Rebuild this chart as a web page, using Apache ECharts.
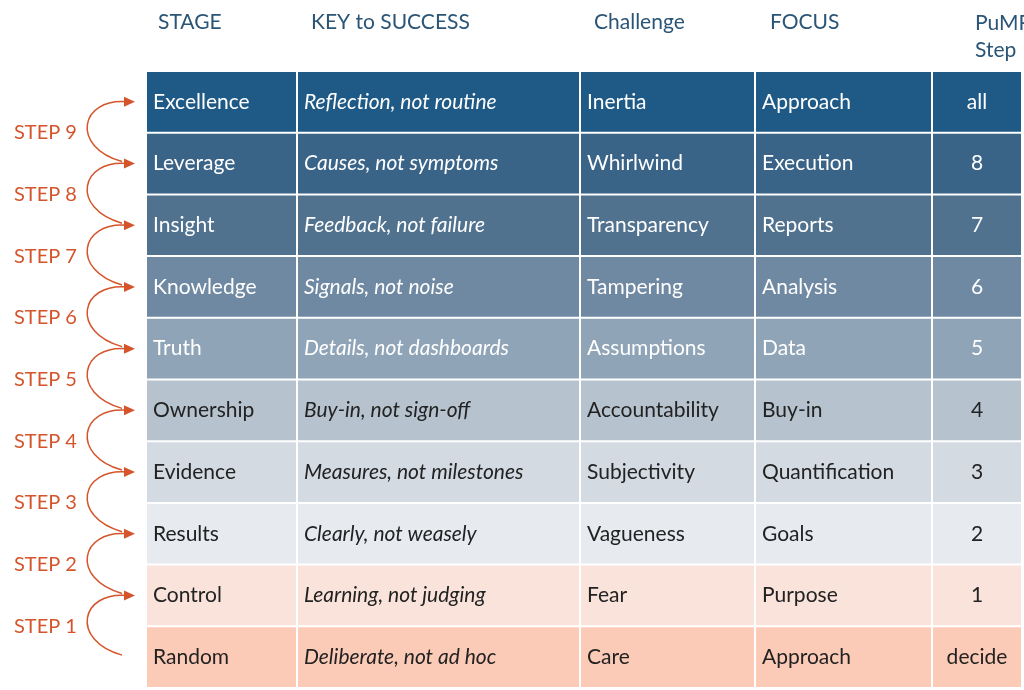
<!DOCTYPE html>
<html><head><meta charset="utf-8">
<script src="https://cdn.jsdelivr.net/npm/echarts@6/dist/echarts.min.js"></script>
<style>html,body{margin:0;background:#fff}#c{width:1024px;height:690px}</style>
</head><body><div id="c"></div>
<script>
const headers = ['STAGE','KEY to SUCCESS','Challenge','FOCUS','PuMP\nStep'];
const stages = ['Excellence','Leverage','Insight','Knowledge','Truth','Ownership','Evidence','Results','Control','Random'];
const keys = ['Reflection, not routine','Causes, not symptoms','Feedback, not failure','Signals, not noise','Details, not dashboards','Buy-in, not sign-off','Measures, not milestones','Clearly, not weasely','Learning, not judging','Deliberate, not ad hoc'];
const challenges = ['Inertia','Whirlwind','Transparency','Tampering','Assumptions','Accountability','Subjectivity','Vagueness','Fear','Care'];
const focus = ['Approach','Execution','Reports','Analysis','Data','Buy-in','Quantification','Goals','Purpose','Approach'];
const pumpSteps = ['all','8','7','6','5','4','3','2','1','decide'];
const stepLabels = ['STEP 1','STEP 2','STEP 3','STEP 4','STEP 5','STEP 6','STEP 7','STEP 8','STEP 9'];

const rowColors = ['#1e5a85','#3a6388','#50728f','#6f89a2','#8fa4b7','#b6c3ce','#d3dae2','#e7ebf0','#f9e3da','#fccbb8'];
const textColors = ['#fff','#fff','#fff','#fff','#fff','#222','#222','#222','#222','#222'];
const colEdges = [0,151,434,609,786,876];
const columns = [stages, keys, challenges, focus, pumpSteps];

const cells = [];
columns.forEach((col,c)=>col.forEach((v,r)=>cells.push([c,r,v])));
const font = 'Lato, "Noto Sans", sans-serif';

const chart = echarts.init(document.getElementById('c'));
chart.setOption({
  animation:false,
  grid:{left:146,right:2,top:71,bottom:2},
  xAxis:{type:'value',min:0,max:876,show:false},
  yAxis:{type:'category',data:stages,inverse:true,show:false},
  graphic: headers.map((h,i)=>({
    type:'text',
    left: i===4 ? undefined : [158,311,594,770][i],
    x: i===4 ? 975 : undefined,
    top: i===4 ? 10 : 9,
    style:{text:h,fill:'#2a5576',font:'21px '+font,align:i===4?'center':'left',lineHeight:27}
  })).map(g=>{ if(g.x!==undefined){g.left=undefined;} return g;}),
  series:[{
    type:'custom',
    data:cells,
    encode:{x:0,y:1},
    renderItem:(params,api)=>{
      const c=api.value(0), r=api.value(1);
      const v=cells[params.dataIndex][2];
      const p0=api.coord([colEdges[c],r]), p1=api.coord([colEdges[c+1],r]);
      const h=api.size([0,1])[1];
      const x0=p0[0], x1=p1[0], y=p0[1];
      const center=c===4;
      return {type:'group',children:[
        {type:'rect',shape:{x:x0+1,y:y-h/2+1,width:x1-x0-2,height:h-2},style:{fill:rowColors[r]}},
        {type:'text',x:center?(x0+x1)/2:x0+7,y:y,style:{text:v,fill:textColors[r],
          font:(c===1?'italic ':'')+'21px '+font,align:center?'center':'left',verticalAlign:'middle'}}
      ]};
    }
  },{
    type:'custom',
    data:stepLabels.map((s,i)=>[0,9-i-1,s]),
    encode:{x:0,y:1},
    clip:false,
    renderItem:(params,api)=>{
      const k=params.dataIndex; // step k+1
      const rTop=api.value(1);
      const top=api.coord([0,rTop]), bot=api.coord([0,rTop+1]);
      const yT=top[1], yB=bot[1], ym=(yT+yB)/2;
      const ex=133, sx=122;
      const col='#d4552c';
      return {type:'group',children:[
        {type:'bezierCurve',shape:{x1:sx,y1:yB-2,x2:ex-6,y2:yT,cpx1:70,cpy1:ym+14,cpx2:80,cpy2:yT-4},
          style:{stroke:col,lineWidth:1.5,fill:null}},
        {type:'polygon',shape:{points:[[ex+2,yT],[ex-9,yT-5],[ex-9,yT+5]]},style:{fill:col}},
        {type:'text',x:14,y:ym,style:{text:stepLabels[k],fill:col,font:'20px '+font,verticalAlign:'middle'}}
      ]};
    }
  }]
});
</script></body></html>
